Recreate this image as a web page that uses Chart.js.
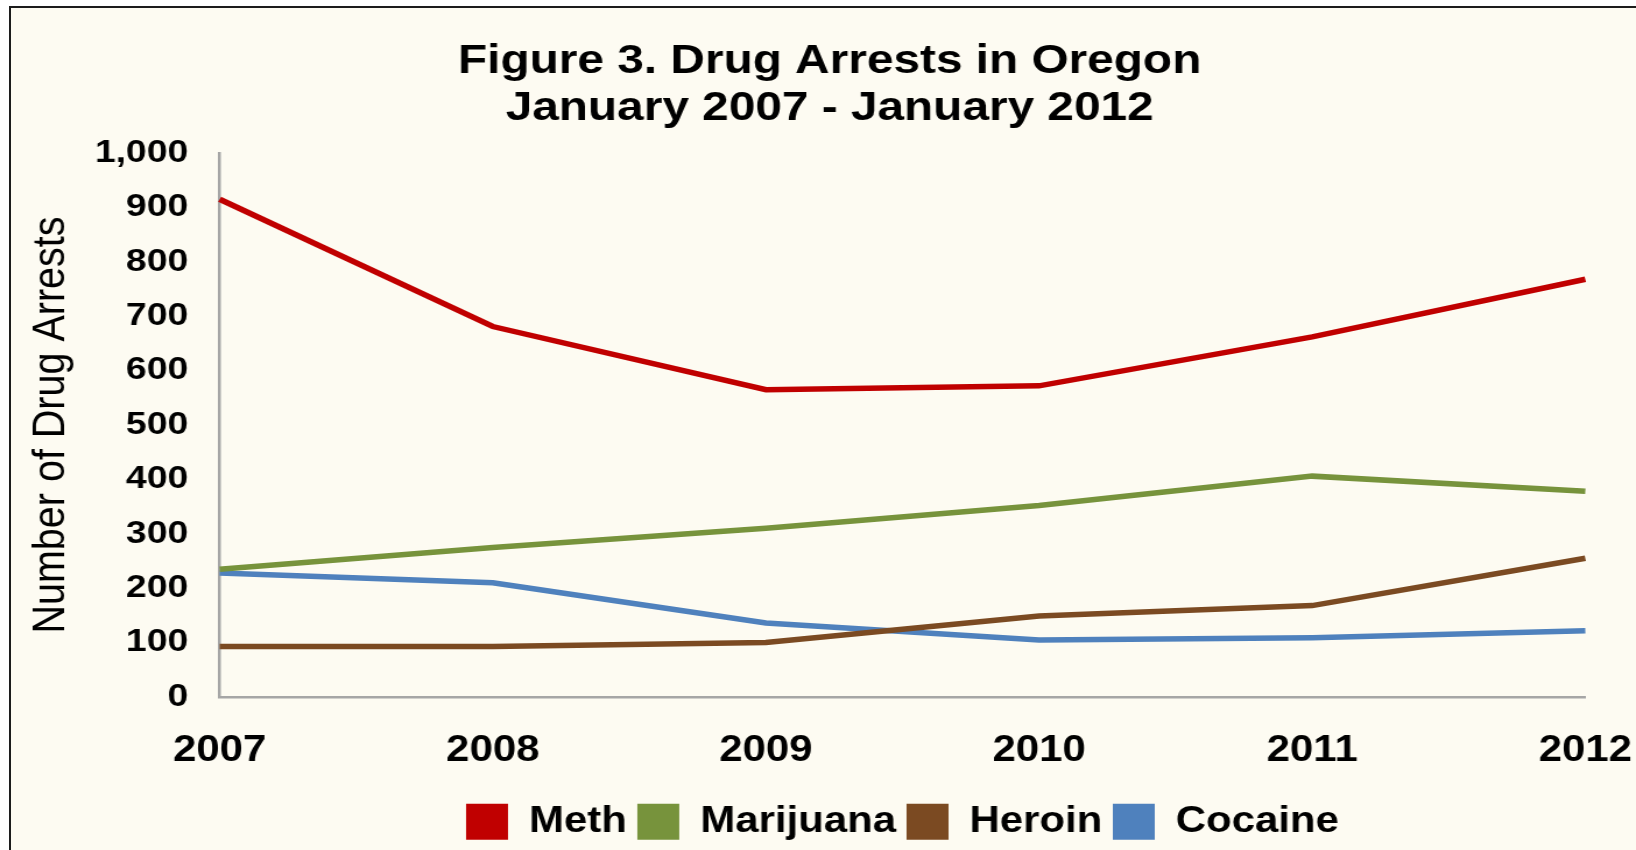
<!DOCTYPE html>
<html>
<head>
<meta charset="utf-8">
<script src="https://cdn.jsdelivr.net/npm/chart.js@4.4.1/dist/chart.umd.min.js"></script>
<style>
  html, body { margin: 0; padding: 0; background: #ffffff; width: 1636px; height: 850px; overflow: hidden; }
  #frame { position: absolute; left: 9px; top: 6px; width: 1700px; height: 900px;
           border-left: 2.5px solid #1c1c1c; border-top: 2.5px solid #1c1c1c; background: #FDFBF2; }
  #wrap { position: absolute; left: 0; top: 0; width: 1404px; height: 850px;
          transform: scaleX(1.16524); transform-origin: 0 0; }
</style>
</head>
<body>
<div id="frame"></div>
<div id="wrap"><canvas id="c"></canvas></div>
<script>
// ---- data ----
const years = ['2007', '2008', '2009', '2010', '2011', '2012'];
const meth = [915, 681, 565, 572, 662, 768];
const marijuana = [235, 275, 310, 352, 406, 378];
const heroin = [93, 93, 100, 149, 168, 255];
const cocaine = [228, 210, 136, 105, 109, 122];
const seriesNames = ['Meth', 'Marijuana', 'Heroin', 'Cocaine'];
const yTickValues = [0, 100, 200, 300, 400, 500, 600, 700, 800, 900, 1000];
const titleLines = ['Figure 3. Drug Arrests in Oregon', 'January 2007 - January 2012'];
const yAxisTitle = 'Number of Drug Arrests';

// ---- styles ----
const colors = ['#C00000', '#77933C', '#7B4A22', '#4F81BD'];
const FONT = "'Liberation Sans', Arial, sans-serif";
const seriesData = [meth, marijuana, heroin, cocaine];

Chart.defaults.font.family = FONT;
Chart.defaults.color = '#000000';

new Chart(document.getElementById('c'), {
  type: 'line',
  data: {
    labels: years,
    datasets: seriesNames.map((name, i) => ({
      label: name,
      data: seriesData[i],
      borderColor: colors[i],
      backgroundColor: colors[i],
      borderWidth: 5.5,
      pointRadius: 0,
      pointHoverRadius: 0,
      tension: 0,
      fill: false
    }))
  },
  options: {
    responsive: true,
    maintainAspectRatio: false,
    animation: false,
    events: [],
    layout: { padding: { left: 24, right: 4, top: 0, bottom: 0.3 } },
    plugins: {
      tooltip: { enabled: false },
      title: {
        display: true,
        text: titleLines,
        color: '#000000',
        font: { family: FONT, size: 41, weight: 'bold', lineHeight: 1.15 },
        padding: { top: 38, bottom: 20.7 }
      },
      legend: {
        display: true,
        position: 'bottom',
        fullSize: false,
        labels: {
          boxWidth: 36,
          boxHeight: 36,
          padding: 9,
          color: '#000000',
          font: { family: FONT, size: 36, weight: 'bold' },
          generateLabels: (chart) => chart.data.datasets.map((ds, i) => ({
            text: ds.label,
            fillStyle: colors[i],
            strokeStyle: colors[i],
            lineWidth: 0,
            hidden: false,
            datasetIndex: i,
            fontColor: '#000000'
          }))
        }
      }
    },
    scales: {
      x: {
        type: 'category',
        offset: false,
        grid: { display: false, drawTicks: false },
        border: { display: true, color: '#A6A6A6', width: 2.5 },
        ticks: {
          padding: 32,
          color: '#000000',
          maxRotation: 0,
          autoSkip: false,
          font: { family: FONT, size: 36, weight: 'bold', lineHeight: 1.2 }
        },
        afterFit: (scale) => {
          scale.height = 97.7;
          scale.paddingLeft = 0;
          scale.paddingRight = 43.5;
        }
      },
      y: {
        min: 0,
        max: 1000,
        grid: { display: false, drawTicks: false },
        border: { display: true, color: '#A6A6A6', width: 2.5 },
        afterBuildTicks: (scale) => { scale.ticks = yTickValues.map(v => ({ value: v })); },
        ticks: {
          padding: 27,
          color: '#000000',
          font: { family: FONT, size: 32, weight: 'bold' },
          callback: (v) => Number(v).toLocaleString('en-US')
        },
        title: {
          display: true,
          text: yAxisTitle,
          color: '#000000',
          font: { family: FONT, size: 39.5, weight: 'normal', lineHeight: 1 },
          padding: { top: 0, bottom: 0 }
        },
        afterFit: (scale) => { scale.width = 164.5; }
      }
    }
  }
});
</script>
</body>
</html>
